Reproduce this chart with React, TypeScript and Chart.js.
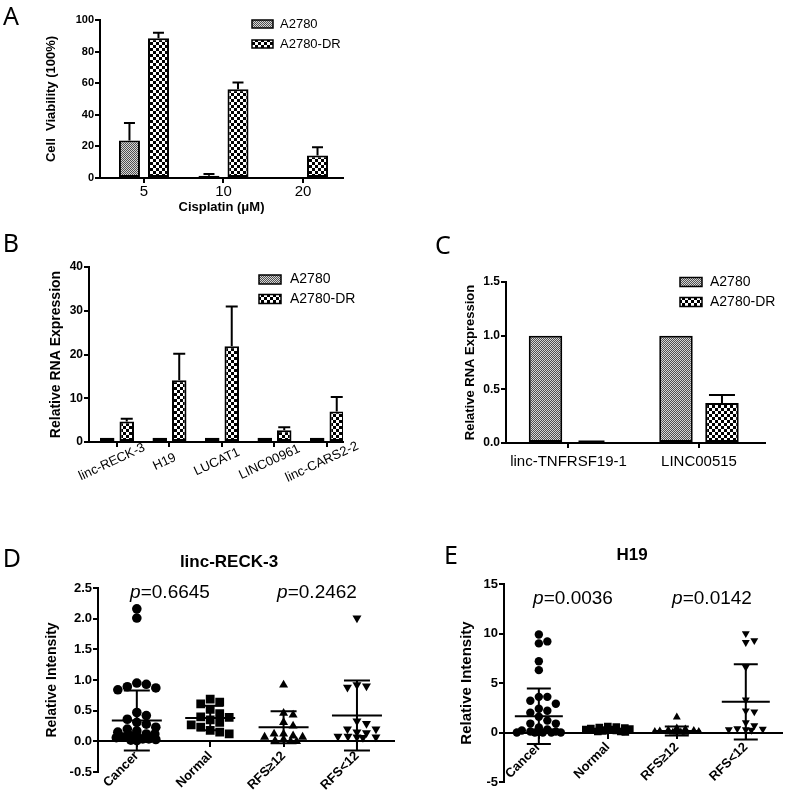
import React, { useEffect, useRef } from "react";
import { Chart, registerables } from "chart.js";
Chart.register(...registerables);

const FONT = "'Liberation Sans', Arial, Helvetica, sans-serif";
const LETTER_FONT = "'Noto Sans', 'DejaVu Sans', sans-serif";

// ---------- Panel A : cell viability ----------
const doseLabels = ["5", "10", "20"];
const viabA2780 = [23.8, 1.5, 0];
const viabA2780Err = [11, 1, 0];
const viabDR = [88.4, 56.2, 14.3];
const viabDRErr = [3.6, 4.2, 5.1];
const viabTicks = [0, 20, 40, 60, 80, 100];

// ---------- Panel B : up-regulated lncRNAs ----------
const genesB = ["linc-RECK-3", "H19", "LUCAT1", "LINC00961", "linc-CARS2-2"];
const exprBA2780 = [1, 1, 1, 1, 1];
const exprBA2780Err = [0, 0, 0, 0, 0];
const exprBDR = [4.7, 14.1, 21.9, 2.7, 7.0];
const exprBDRErr = [0.6, 6.1, 9.1, 0.7, 3.3];
const ticksB = [0, 10, 20, 30, 40];

// ---------- Panel C : down-regulated lncRNAs ----------
const genesC = ["linc-TNFRSF19-1", "LINC00515"];
const exprCA2780 = [1, 1];
const exprCA2780Err = [0, 0];
const exprCDR = [0.01, 0.373];
const exprCDRErr = [0.005, 0.074];
const ticksC = [0, 0.5, 1.0, 1.5];

const seriesNames = ["A2780", "A2780-DR"];

// ---------- Panels D / E : clinical groups ----------
const groupsDE = ["Cancer", "Normal", "RFS\u226512", "RFS<12"];

const reckCancer = [2.16, 2.01, 0.95, 0.93, 0.89, 0.87, 0.84, 0.47, 0.42, 0.36, 0.31, 0.28, 0.23, 0.2, 0.17, 0.15, 0.12, 0.12, 0.1, 0.09, 0.07, 0.06, 0.04, 0.04, 0.03, 0.02, 0.01];
const reckNormal = [0.69, 0.64, 0.61, 0.52, 0.45, 0.4, 0.39, 0.35, 0.31, 0.27, 0.23, 0.18, 0.15, 0.12];
const reckRfsHigh = [0.92, 0.46, 0.43, 0.31, 0.25, 0.12, 0.12, 0.09, 0.07, 0.07, 0.03, 0.01, 0.0, 0.0];
const reckRfsLow = [2.01, 0.92, 0.9, 0.88, 0.33, 0.29, 0.2, 0.2, 0.15, 0.14, 0.08, 0.08, 0.07, 0.07, 0.06];
const reckMeans = [0.34, 0.38, 0.23, 0.42];
const reckSds = [0.49, 0.2, 0.26, 0.57];
const reckTicks = [-0.5, 0, 0.5, 1.0, 1.5, 2.0, 2.5];
const reckP = ["0.6645", "0.2462"];

const h19Cancer = [9.9, 9.2, 9.0, 7.2, 6.3, 3.6, 3.6, 3.2, 2.9, 2.4, 2.2, 2.0, 1.6, 1.2, 0.9, 0.9, 0.5, 0.3, 0.2, 0.1, 0.1, 0.05, 0.0, 0.0, 0.0, 0.0, 0.0];
const h19Normal = [0.6, 0.55, 0.5, 0.45, 0.4, 0.35, 0.3, 0.3, 0.25, 0.2, 0.15, 0.1, 0.1, 0.05];
const h19RfsHigh = [1.55, 0.45, 0.35, 0.25, 0.2, 0.15, 0.1, 0.08, 0.05, 0.03, 0.02, 0.0];
const h19RfsLow = [10.0, 9.3, 9.1, 6.6, 3.3, 2.2, 2.1, 1.0, 0.7, 0.4, 0.35, 0.3, 0.3, 0.25];
const h19Means = [1.65, 0.3, 0.15, 3.1];
const h19Sds = [2.8, 0.2, 0.45, 3.8];
const h19Ticks = [-5, 0, 5, 10, 15];
const h19P = ["0.0036", "0.0142"];

// ---------- helpers ----------
function makePattern(kind: "fine" | "checker"): any {
  const c = document.createElement("canvas");
  const g = c.getContext("2d")!;
  if (kind === "fine") {
    c.width = 2; c.height = 2;
    g.fillStyle = "#d6d6d6"; g.fillRect(0, 0, 2, 2);
    g.fillStyle = "#505050"; g.fillRect(0, 0, 1, 1); g.fillRect(1, 1, 1, 1);
  } else {
    c.width = 6; c.height = 6;
    g.fillStyle = "#ffffff"; g.fillRect(0, 0, 6, 6);
    g.fillStyle = "#000000"; g.fillRect(0, 0, 3, 3); g.fillRect(3, 3, 3, 3);
  }
  const ctx = document.createElement("canvas").getContext("2d")!;
  return ctx.createPattern(c, "repeat");
}

const errorBarPlugin = {
  id: "errorBars",
  afterDatasetsDraw(chart: any, _a: any, opts: any) {
    const { ctx } = chart;
    const y = chart.scales.y;
    chart.data.datasets.forEach((ds: any, di: number) => {
      if (!ds.errors) return;
      const meta = chart.getDatasetMeta(di);
      meta.data.forEach((bar: any, i: number) => {
        const e = ds.errors[i];
        if (!e) return;
        const top = y.getPixelForValue(ds.data[i].y + e);
        ctx.save();
        ctx.strokeStyle = "#000";
        ctx.lineWidth = 2;
        ctx.beginPath();
        ctx.moveTo(bar.x, bar.y);
        ctx.lineTo(bar.x, top);
        ctx.moveTo(bar.x - opts.cap, top);
        ctx.lineTo(bar.x + opts.cap, top);
        ctx.stroke();
        ctx.restore();
      });
    });
  },
};

const boxLegendPlugin = {
  id: "boxLegend",
  afterDraw(chart: any, _a: any, opts: any) {
    const { ctx } = chart;
    chart.data.datasets.forEach((ds: any, i: number) => {
      const cy = opts.y + i * opts.gap;
      ctx.save();
      ctx.fillStyle = ds.backgroundColor;
      ctx.fillRect(opts.x, cy - opts.h / 2, opts.w, opts.h);
      ctx.strokeStyle = "#000";
      ctx.lineWidth = 1.5;
      ctx.strokeRect(opts.x, cy - opts.h / 2, opts.w, opts.h);
      ctx.fillStyle = "#000";
      ctx.font = `${opts.size}px ${FONT}`;
      ctx.textAlign = "left";
      ctx.textBaseline = "middle";
      ctx.fillText(ds.label, opts.tx, cy);
      ctx.restore();
    });
  },
};

const slantLabelPlugin = {
  id: "slantLabels",
  afterDraw(chart: any, _a: any, opts: any) {
    if (!opts || !opts.labels) return;
    const { ctx } = chart;
    const x = chart.scales.x;
    opts.labels.forEach((lab: string, i: number) => {
      const px = x.getPixelForValue(i);
      ctx.save();
      ctx.translate(px + opts.dx, chart.chartArea.bottom + opts.dy);
      ctx.rotate((-opts.angle * Math.PI) / 180);
      ctx.font = `${opts.size}px ${FONT}`;
      ctx.fillStyle = "#000";
      ctx.textAlign = "center";
      ctx.textBaseline = "middle";
      ctx.fillText(lab, 0, 0);
      ctx.restore();
    });
  },
};

const meanSdPlugin = {
  id: "meanSd",
  afterDatasetsDraw(chart: any, _a: any, opts: any) {
    const { ctx } = chart;
    const x = chart.scales.x;
    const y = chart.scales.y;
    opts.means.forEach((m: number, i: number) => {
      const cx = x.getPixelForValue(i);
      const py = y.getPixelForValue(m);
      const top = y.getPixelForValue(m + opts.sds[i]);
      const bot = y.getPixelForValue(m - opts.sds[i]);
      ctx.save();
      ctx.strokeStyle = "#000";
      ctx.lineWidth = 2;
      ctx.beginPath();
      ctx.moveTo(cx - opts.meanHalf, py);
      ctx.lineTo(cx + opts.meanHalf, py);
      ctx.moveTo(cx, top);
      ctx.lineTo(cx, bot);
      ctx.moveTo(cx - opts.capHalf, top);
      ctx.lineTo(cx + opts.capHalf, top);
      ctx.moveTo(cx - opts.capHalf, bot);
      ctx.lineTo(cx + opts.capHalf, bot);
      ctx.stroke();
      ctx.restore();
    });
  },
};

function axisBase() {
  return {
    grid: { display: true, drawOnChartArea: false, drawTicks: true, tickLength: 5, color: "#000", lineWidth: 2, offset: false },
    border: { display: true, color: "#000", width: 2 },
  };
}

type BarSpec = {
  labels: string[];
  s1: number[]; e1: number[]; s2: number[]; e2: number[];
  yTicks: number[]; yFmt: (v: number) => string; yTickSize: number;
  xMin: number; xMax: number;
  yWidth: number; xHeight: number;
  padding: { left: number; top: number; right: number; bottom: number };
  yTitle: string; yTitleSize: number; yTitlePad: number;
  xTitle?: string; xTitleSize?: number; xTitlePad?: number;
  xTickSize: number; xTickPad: number; showXTicks: boolean;
  catPct: number; barPct: number; cap: number;
  legend: any;
  slant?: any;
};

function buildBar(canvas: HTMLCanvasElement, s: BarSpec) {
  const fine = makePattern("fine");
  const checker = makePattern("checker");
  const yMin = s.yTicks[0];
  const yMax = s.yTicks[s.yTicks.length - 1];
  return new Chart(canvas, {
    type: "bar",
    data: {
      datasets: [
        {
          label: seriesNames[0],
          data: s.labels.map((_, i) => ({ x: i, y: s.s1[i] })),
          errors: s.e1,
          backgroundColor: fine,
          borderColor: "#000",
          borderWidth: 2,
          borderSkipped: false,
          categoryPercentage: s.catPct,
          barPercentage: s.barPct,
        } as any,
        {
          label: seriesNames[1],
          data: s.labels.map((_, i) => ({ x: i, y: s.s2[i] })),
          errors: s.e2,
          backgroundColor: checker,
          borderColor: "#000",
          borderWidth: 2,
          borderSkipped: false,
          categoryPercentage: s.catPct,
          barPercentage: s.barPct,
        } as any,
      ],
    },
    options: {
      responsive: false,
      animation: false,
      devicePixelRatio: 1,
      events: [],
      layout: { padding: s.padding },
      plugins: {
        legend: { display: false },
        tooltip: { enabled: false },
        errorBars: { cap: s.cap },
        boxLegend: s.legend,
        slantLabels: s.slant || {},
      } as any,
      scales: {
        x: {
          type: "linear",
          min: s.xMin,
          max: s.xMax,
          offset: false,
          ...axisBase(),
          afterBuildTicks: (sc: any) => { sc.ticks = s.labels.map((_, i) => ({ value: i })); },
          afterFit: (sc: any) => { sc.height = s.xHeight; },
          ticks: {
            display: s.showXTicks,
            color: "#000",
            font: { family: FONT, size: s.xTickSize },
            padding: s.xTickPad,
            maxRotation: 0,
            minRotation: 0,
            autoSkip: false,
            callback: (v: any) => s.labels[v] ?? "",
          },
          title: s.xTitle
            ? { display: true, text: s.xTitle, color: "#000", font: { family: FONT, size: s.xTitleSize, weight: "bold" }, padding: { top: 0, bottom: s.xTitlePad } }
            : { display: false },
        } as any,
        y: {
          type: "linear",
          min: yMin,
          max: yMax,
          ...axisBase(),
          afterBuildTicks: (sc: any) => { sc.ticks = s.yTicks.map((v) => ({ value: v })); },
          afterFit: (sc: any) => { sc.width = s.yWidth; },
          ticks: { color: "#000", font: { family: FONT, size: s.yTickSize, weight: "bold" }, padding: 1, callback: (v: any) => s.yFmt(v) },
          title: { display: true, text: s.yTitle, color: "#000", font: { family: FONT, size: s.yTitleSize, weight: "bold" }, padding: { top: s.yTitlePad, bottom: 0 } },
        } as any,
      },
    },
    plugins: [errorBarPlugin, boxLegendPlugin, slantLabelPlugin],
  } as any);
}

function swarmOffsets(values: number[], yPix: (v: number) => number, dxThr: number, dyThr: number, maxOff: number): number[] {
  const placed: { dx: number; py: number }[] = [];
  return values.map((v) => {
    const py = yPix(v);
    let best = 0;
    let bestScore = -1;
    for (let st = 0; st <= maxOff; st += 0.5) {
      const cands = st === 0 ? [0] : [st, -st];
      for (const dx of cands) {
        let score = Infinity;
        for (const p of placed) {
          const sc = Math.max(Math.abs(dx - p.dx) / dxThr, Math.abs(py - p.py) / dyThr);
          if (sc < score) score = sc;
        }
        if (score >= 1) {
          placed.push({ dx, py });
          return dx;
        }
        if (score > bestScore) { bestScore = score; best = dx; }
      }
    }
    placed.push({ dx: best, py });
    return best;
  });
}

type ScatterSpec = {
  groups: number[][];
  means: number[]; sds: number[];
  yTicks: number[]; yFmt: (v: number) => string; yTickSize: number;
  xMin: number; xMax: number;
  yWidth: number;
  padding: { left: number; top: number; right: number; bottom: number };
  yTitle: string; yTitleSize: number; yTitlePad: number;
  xTickSize: number;
  radii: number[];
  meanHalf: number; capHalf: number;
  swarm: { dx: number; dy: number; max: number };
};

const pointStyles = ["circle", "rect", "triangle", "triangle"];
const pointRotations = [0, 0, 0, 180];

function buildScatter(canvas: HTMLCanvasElement, s: ScatterSpec) {
  const chart = new Chart(canvas, {
    type: "scatter",
    data: {
      datasets: s.groups.map((vals, gi) => ({
        label: groupsDE[gi],
        data: vals.map((v) => ({ x: gi, y: v })),
        pointStyle: pointStyles[gi],
        rotation: pointRotations[gi],
        pointRadius: s.radii[gi],
        backgroundColor: "#000",
        borderColor: "#000",
        borderWidth: 0,
      })) as any,
    },
    options: {
      responsive: false,
      animation: false,
      devicePixelRatio: 1,
      events: [],
      layout: { padding: s.padding },
      plugins: {
        legend: { display: false },
        tooltip: { enabled: false },
        meanSd: { means: s.means, sds: s.sds, meanHalf: s.meanHalf, capHalf: s.capHalf },
      } as any,
      scales: {
        x: {
          type: "linear",
          position: { y: 0 },
          min: s.xMin,
          max: s.xMax,
          offset: false,
          ...axisBase(),
          afterBuildTicks: (sc: any) => { sc.ticks = groupsDE.map((_, i) => ({ value: i })); },
          ticks: {
            color: "#000",
            font: { family: FONT, size: s.xTickSize, weight: "bold" },
            padding: 2,
            maxRotation: 45,
            minRotation: 45,
            autoSkip: false,
            callback: (v: any) => groupsDE[v] ?? "",
          },
        } as any,
        y: {
          type: "linear",
          min: s.yTicks[0],
          max: s.yTicks[s.yTicks.length - 1],
          ...axisBase(),
          afterBuildTicks: (sc: any) => { sc.ticks = s.yTicks.map((v) => ({ value: v })); },
          afterFit: (sc: any) => { sc.width = s.yWidth; },
          ticks: { color: "#000", font: { family: FONT, size: s.yTickSize, weight: "bold" }, padding: 1, callback: (v: any) => s.yFmt(v) },
          title: { display: true, text: "Relative Intensity", color: "#000", font: { family: FONT, size: s.yTitleSize, weight: "bold" }, padding: { top: s.yTitlePad, bottom: 0 } },
        } as any,
      },
    },
    plugins: [meanSdPlugin],
  } as any);

  const xs: any = chart.scales.x;
  const ys: any = chart.scales.y;
  const unit = xs.getPixelForValue(1) - xs.getPixelForValue(0);
  s.groups.forEach((vals, gi) => {
    const offs = swarmOffsets(vals, (v) => ys.getPixelForValue(v), s.swarm.dx, s.swarm.dy, s.swarm.max);
    const ds: any = chart.data.datasets[gi];
    ds.data = vals.map((v, i) => ({ x: gi + offs[i] / unit, y: v }));
  });
  chart.update("none");
  return chart;
}

function ChartCanvas(props: { left: number; top: number; width: number; height: number; build: (c: HTMLCanvasElement) => any }) {
  const ref = useRef<HTMLCanvasElement>(null);
  useEffect(() => {
    const chart = props.build(ref.current!);
    return () => chart.destroy();
  }, []);
  return (
    <canvas
      ref={ref}
      width={props.width}
      height={props.height}
      style={{ position: "absolute", left: props.left, top: props.top, width: props.width, height: props.height }}
    />
  );
}

function Txt(props: { x: number; y: number; size: number; bold?: boolean; family?: string; children: any }) {
  return (
    <div
      style={{
        position: "absolute",
        left: props.x,
        top: props.y,
        transform: "translate(-50%, -50%)",
        fontSize: props.size,
        fontWeight: props.bold ? 700 : 400,
        fontFamily: props.family ?? FONT,
        lineHeight: 1,
        whiteSpace: "nowrap",
        color: "#000",
      }}
    >
      {props.children}
    </div>
  );
}

const fmtInt = (v: number) => String(v);
const fmt1 = (v: number) => v.toFixed(1);

export default function App() {
  return (
    <div style={{ position: "absolute", left: 0, top: 0, width: 787, height: 797, background: "#fff", overflow: "hidden" }}>
      <ChartCanvas
        left={0} top={0} width={400} height={220}
        build={(c) =>
          buildBar(c, {
            labels: doseLabels, s1: viabA2780, e1: viabA2780Err, s2: viabDR, e2: viabDRErr,
            yTicks: viabTicks, yFmt: fmtInt, yTickSize: 11,
            xMin: -0.553, xMax: 2.503,
            yWidth: 100, xHeight: 42,
            padding: { left: 0, top: 20, right: 57, bottom: 0 },
            yTitle: "Cell  Viability (100%)", yTitleSize: 13, yTitlePad: 44,
            xTitle: "Cisplatin (\u03bcM)", xTitleSize: 13, xTitlePad: 5,
            xTickSize: 15, xTickPad: 0, showXTicks: true,
            catPct: 0.73, barPct: 0.724, cap: 5.5,
            legend: { x: 252, y: 24, gap: 20, w: 21, h: 8, tx: 280, size: 13 },
          })
        }
      />
      <ChartCanvas
        left={0} top={225} width={400} height={275}
        build={(c) =>
          buildBar(c, {
            labels: genesB, s1: exprBA2780, e1: exprBA2780Err, s2: exprBDR, e2: exprBDRErr,
            yTicks: ticksB, yFmt: fmtInt, yTickSize: 12,
            xMin: -0.533, xMax: 4.305,
            yWidth: 89, xHeight: 58,
            padding: { left: 0, top: 42, right: 57, bottom: 0 },
            yTitle: "Relative RNA Expression", yTitleSize: 14, yTitlePad: 47.6,
            xTickSize: 13, xTickPad: 0, showXTicks: false,
            catPct: 0.743, barPct: 0.744, cap: 6,
            legend: { x: 259, y: 54.5, gap: 19.5, w: 22, h: 9, tx: 290, size: 14 },
            slant: { labels: genesB, dx: -5, dy: 20, angle: 25, size: 13 },
          })
        }
      />
      <ChartCanvas
        left={400} top={225} width={387} height={275}
        build={(c) =>
          buildBar(c, {
            labels: genesC, s1: exprCA2780, e1: exprCA2780Err, s2: exprCDR, e2: exprCDRErr,
            yTicks: ticksC, yFmt: fmt1, yTickSize: 12,
            xMin: -0.479, xMax: 1.506,
            yWidth: 106, xHeight: 57,
            padding: { left: 0, top: 57, right: 22, bottom: 0 },
            yTitle: "Relative RNA Expression", yTitleSize: 13, yTitlePad: 62.2,
            xTickSize: 15, xTickPad: 5, showXTicks: true,
            catPct: 0.705, barPct: 0.728, cap: 13,
            legend: { x: 280, y: 57, gap: 20, w: 22, h: 9, tx: 310, size: 14 },
          })
        }
      />
      <ChartCanvas
        left={0} top={500} width={400} height={297}
        build={(c) =>
          buildScatter(c, {
            groups: [reckCancer, reckNormal, reckRfsHigh, reckRfsLow],
            means: reckMeans, sds: reckSds,
            yTicks: reckTicks, yFmt: fmt1, yTickSize: 13,
            xMin: -0.529, xMax: 3.502,
            yWidth: 98,
            padding: { left: 0, top: 88, right: 5, bottom: 25 },
            yTitle: "Relative Intensity", yTitleSize: 14, yTitlePad: 43.6,
            xTickSize: 13,
            radii: [4.8, 6.2, 5.2, 5.2],
            meanHalf: 25, capHalf: 13,
            swarm: { dx: 9.5, dy: 8, max: 22 },
          } as any)
        }
      />
      <ChartCanvas
        left={400} top={500} width={387} height={297}
        build={(c) =>
          buildScatter(c, {
            groups: [h19Cancer, h19Normal, h19RfsHigh, h19RfsLow],
            means: h19Means, sds: h19Sds,
            yTicks: h19Ticks, yFmt: fmtInt, yTickSize: 13,
            xMin: -0.505, xMax: 3.519,
            yWidth: 104,
            padding: { left: 0, top: 84, right: 0, bottom: 15 },
            yTitle: "Relative Intensity", yTitleSize: 15, yTitlePad: 58,
            xTickSize: 13,
            radii: [4.2, 5.4, 4.6, 4.6],
            meanHalf: 24, capHalf: 12,
            swarm: { dx: 8.5, dy: 7, max: 22 },
          } as any)
        }
      />

      <Txt x={11} y={15} size={25} family={LETTER_FONT}>A</Txt>
      <Txt x={11} y={242} size={25} family={LETTER_FONT}>B</Txt>
      <Txt x={443} y={244} size={25} family={LETTER_FONT}>C</Txt>
      <Txt x={12} y={557} size={25} family={LETTER_FONT}>D</Txt>
      <Txt x={451} y={554} size={25} family={LETTER_FONT}>E</Txt>

      <Txt x={229} y={561} size={17} bold>linc-RECK-3</Txt>
      <Txt x={632} y={554} size={17} bold>H19</Txt>

      <Txt x={170} y={591} size={19}><i>p</i>={reckP[0]}</Txt>
      <Txt x={317} y={591} size={19}><i>p</i>={reckP[1]}</Txt>
      <Txt x={573} y={597} size={19}><i>p</i>={h19P[0]}</Txt>
      <Txt x={712} y={597} size={19}><i>p</i>={h19P[1]}</Txt>
    </div>
  );
}
